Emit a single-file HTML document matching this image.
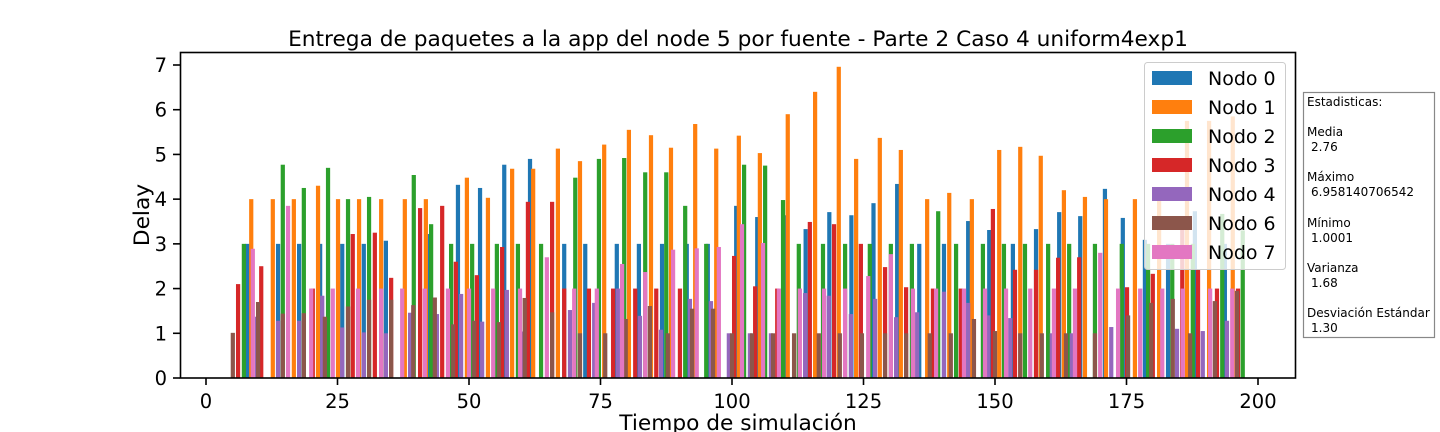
<!DOCTYPE html>
<html><head><meta charset="utf-8">
<style>
html,body{margin:0;padding:0;background:#fff;width:1440px;height:432px;overflow:hidden}
svg text{font-family:"DejaVu Sans","Liberation Sans",sans-serif}
</style></head>
<body>
<svg id="chart" width="1440" height="432" viewBox="0 0 1440 432" xmlns="http://www.w3.org/2000/svg">
<text x="738" y="46" font-size="21.7" text-anchor="middle">Entrega de paquetes a la app del node 5 por fuente - Parte 2 Caso 4 uniform4exp1</text>
<g id="bars"></g>
<g id="axes"></g>
<rect x="180.5" y="52.5" width="1115" height="325.5" fill="none" stroke="#000" stroke-width="1.6"/>
<text x="738" y="430" font-size="21.7" text-anchor="middle">Tiempo de simulación</text>
<text x="149" y="215" font-size="21.7" text-anchor="middle" transform="rotate(-90 149 215)">Delay</text>
<g id="legend">
<rect x="1144.5" y="62.5" width="141" height="207" rx="3" fill="#fff" fill-opacity="0.8" stroke="#ccc" stroke-width="1"/>
</g>
<g>
<rect x="1303.5" y="92.5" width="131" height="245" fill="#fff" stroke="#888" stroke-width="1.2"/>
<text font-size="12" fill="#000">
<tspan x="1307" y="106">Estadisticas:</tspan>
<tspan x="1307" y="136">Media</tspan>
<tspan x="1311" y="151">2.76</tspan>
<tspan x="1307" y="181">Máximo</tspan>
<tspan x="1311" y="196">6.958140706542</tspan>
<tspan x="1307" y="227">Mínimo</tspan>
<tspan x="1311" y="242">1.0001</tspan>
<tspan x="1307" y="272">Varianza</tspan>
<tspan x="1311" y="287">1.68</tspan>
<tspan x="1307" y="317">Desviación Estándar</tspan>
<tspan x="1311" y="332">1.30</tspan>
</text>
</g>
</svg>
<script>
const nodeNames = ["Nodo 0","Nodo 1","Nodo 2","Nodo 3","Nodo 4","Nodo 6","Nodo 7"];
const nodeColors = ["#1f77b4","#ff7f0e","#2ca02c","#d62728","#9467bd","#8c564b","#e377c2"];
const xTicks = [0,25,50,75,100,125,150,175,200];
const yTicks = [0,1,2,3,4,5,6,7];

const t0 = [7.9,13.7,17.7,21.7,25.9,30.0,34.2,42.2,47.9,52.1,56.7,61.6,68.1,72.1,78.1,82.3,86.7,91.4,95.4,100.8,104.8,110.1,114.0,118.5,122.7,126.9,131.4,135.6,140.3,144.9,148.9,153.4,157.8,162.2,166.2,170.9,174.3,178.5,182.9,188.0,193.7];
const v0 = [3,3,3,3,3,3,3.07,3.22,4.32,4.25,4.77,4.9,3,3,3,3,3,3,3,3.85,3.6,3.64,3.33,3.71,3.64,3.91,4.34,3,3,3.51,3.31,3,3.33,3.71,3.62,4.23,3.58,3.09,3,3.73,3];
const t1 = [8.6,12.7,16.7,21.3,25.1,29.1,33.3,37.8,41.8,49.6,53.6,58.2,62.2,66.9,71.1,75.7,80.4,84.6,88.4,93.0,97.0,101.3,105.3,110.6,115.8,120.3,123.6,128.1,132.1,137.1,141.3,145.6,150.8,154.8,158.7,163.1,167.1,171.1,176.6,181.2,186.5,190.7,195.2];
const v1 = [4,4,4,4.3,4,4,4,4,4,4.48,4.03,4.68,4.68,5.13,4.85,5.22,5.55,5.43,5.15,5.68,5.13,5.42,5.03,5.9,6.4,6.96,4.9,5.37,5.1,4,4.14,4,5.1,5.17,4.97,4.2,4.05,4,4,4,5.75,5.75,5.85];
const t2 = [7.2,14.6,18.6,23.2,27.0,31.0,39.5,42.8,46.6,50.6,55.3,59.3,63.7,70.2,74.7,79.5,83.5,87.5,91.1,95.1,102.3,106.3,109.7,112.7,117.3,121.5,126.2,130.2,134.2,139.2,142.6,147.7,151.7,155.7,160.1,164.1,169.0,174.1,179.1,183.7,187.6,193.2,197.1];
const v2 = [3,4.77,4.25,4.7,4,4.05,4.54,3.44,3,3,3,3,3,4.48,4.9,4.92,4.6,4.6,3.85,3,4.77,4.75,3.98,3,3,3,3,3,3,3.73,3,3,3,3,3,3,3,3,3,3,3,3.67,3.3];
const t3 = [6.1,10.5,20.3,27.9,32.1,35.2,40.7,44.9,47.5,51.5,56.3,61.2,65.8,68.1,72.8,77.4,81.6,85.6,90.1,100.4,104.4,108.6,114.8,119.4,124.5,129.1,133.1,138.2,143.5,149.6,153.8,157.8,162.0,166.0,175.1,180.0,185.6,188.6,192.2,196.2];
const v3 = [2.1,2.5,2,3.22,3.25,2.24,3.8,3.85,2.6,2.3,2.93,3.94,3.94,2,2,2,2,2,2,2.73,2.05,2,3.49,3.44,3,2.48,2.03,2,2,3.78,2.42,2.42,2.69,2.7,2.03,2.33,3.33,2.42,2,2];
const t4 = [9.7,13.7,17.7,22.1,25.9,30.0,34.2,38.8,43.9,48.5,52.5,57.2,60.3,69.2,73.8,78.3,82.5,86.5,92.0,96.0,99.4,103.4,107.4,113.9,118.4,122.6,127.2,131.2,135.2,140.3,144.9,148.7,152.9,160.8,164.6,172.1,184.6,189.5,194.1];
const v4 = [1.37,1.28,1.28,1.84,1.13,1.02,1,1.46,1.43,1.88,1.26,1.97,1.04,1.52,1.68,2,1.39,1.08,1.77,1.72,1,1,1,1.9,1.84,1.43,1.77,1.36,1.47,1.93,1.68,1.4,1.34,1,1,1.14,1.1,1.05,1.28];
const t6 = [5.1,9.9,14.6,18.6,22.6,27.0,31.0,35.2,39.4,43.5,47.0,51.0,55.7,60.6,65.8,71.1,75.9,79.8,84.4,87.8,92.4,96.4,100.0,103.8,107.8,111.8,116.5,120.5,124.7,129.1,133.1,137.6,141.6,146.0,150.0,154.8,158.9,163.5,169.0,175.3,179.7,183.8,187.1,191.8,196.0];
const v6 = [1.01,1.7,1.44,1.45,1.37,1.6,1.75,1.75,1.63,1.8,1.2,1.28,1.25,1.79,1.47,1,1,1.32,1.61,1,1.55,1.55,1,1,1,1,1,1,1,1,1,1,1,1.32,1.05,1,1,1,1,1.4,1.68,1.77,1,1.72,1.95];
const t7 = [8.9,15.6,20.0,24.1,28.9,33.3,37.3,41.6,46.0,50.0,54.6,59.7,64.8,70.0,74.3,79.1,83.5,88.8,93.3,97.5,101.9,105.9,108.9,112.9,117.5,121.5,125.9,130.2,134.4,138.8,144.1,148.1,152.1,156.7,161.2,165.2,170.0,173.4,177.6,181.8,185.7,190.9,195.1];
const v7 = [2.89,3.85,2,2,2,2,2,2,2,2,2,2,2.7,2,2,2.55,2.37,2.87,2.9,2.93,3.44,3.02,2,2,2,2,2.28,2.77,2,2,2,2,2,2,2,2,2.8,2,2,2,2,2,2];

const seriesTimes = [t0,t1,t2,t3,t4,t6,t7];
const seriesVals = [v0,v1,v2,v3,v4,v6,v7];

const NS = "http://www.w3.org/2000/svg";
const X0 = 206, XPU = (1258-206)/200;
const Y0 = 378, YPU = (378-65)/7;
function xs(t){ return X0 + t*XPU; }
function ys(v){ return Y0 - v*YPU; }
const BW = 0.8*XPU;

const barsG = document.getElementById('bars');
for (let s = 0; s < seriesTimes.length; s++) {
  const g = document.createElementNS(NS,'g');
  
  
  for (let i = 0; i < seriesTimes[s].length; i++) {
    const r = document.createElementNS(NS,'rect');
    const x = xs(seriesTimes[s][i]) - BW/2;
    const y = ys(seriesVals[s][i]);
    r.setAttribute('x', x.toFixed(2));
    r.setAttribute('y', y.toFixed(2));
    r.setAttribute('width', BW.toFixed(2));
    r.setAttribute('height', (Y0 - y).toFixed(2));
    r.setAttribute('fill', nodeColors[s]);
    
    
    g.appendChild(r);
  }
  barsG.appendChild(g);
}

const axesG = document.getElementById('axes');
xTicks.forEach(t => {
  const l = document.createElementNS(NS,'line');
  l.setAttribute('x1', xs(t)); l.setAttribute('x2', xs(t));
  l.setAttribute('y1', 378); l.setAttribute('y2', 385);
  l.setAttribute('stroke', '#000'); l.setAttribute('stroke-width', '1.6');
  
  
  axesG.appendChild(l);
  const tx = document.createElementNS(NS,'text');
  tx.setAttribute('x', xs(t)); tx.setAttribute('y', 408);
  tx.setAttribute('font-size', '19.5'); tx.setAttribute('text-anchor', 'middle');
  tx.textContent = t;
  
  
  axesG.appendChild(tx);
});
yTicks.forEach(v => {
  const l = document.createElementNS(NS,'line');
  l.setAttribute('x1', 173); l.setAttribute('x2', 180);
  l.setAttribute('y1', ys(v)); l.setAttribute('y2', ys(v));
  l.setAttribute('stroke', '#000'); l.setAttribute('stroke-width', '1.6');
  
  
  axesG.appendChild(l);
  const tx = document.createElementNS(NS,'text');
  tx.setAttribute('x', 167); tx.setAttribute('y', ys(v) + 7);
  tx.setAttribute('font-size', '19.5'); tx.setAttribute('text-anchor', 'end');
  tx.textContent = v;
  
  
  axesG.appendChild(tx);
});

const legG = document.getElementById('legend');
nodeNames.forEach((n, i) => {
  const cy = 78 + i*29;
  const r = document.createElementNS(NS,'rect');
  r.setAttribute('x', 1152); r.setAttribute('y', cy - 7);
  r.setAttribute('width', 40); r.setAttribute('height', 14);
  r.setAttribute('fill', nodeColors[i]);
  
  
  legG.appendChild(r);
  const tx = document.createElementNS(NS,'text');
  tx.setAttribute('x', 1208); tx.setAttribute('y', cy + 7);
  tx.setAttribute('font-size', '19');
  tx.textContent = n;
  
  
  legG.appendChild(tx);
});
</script>
</body></html>
